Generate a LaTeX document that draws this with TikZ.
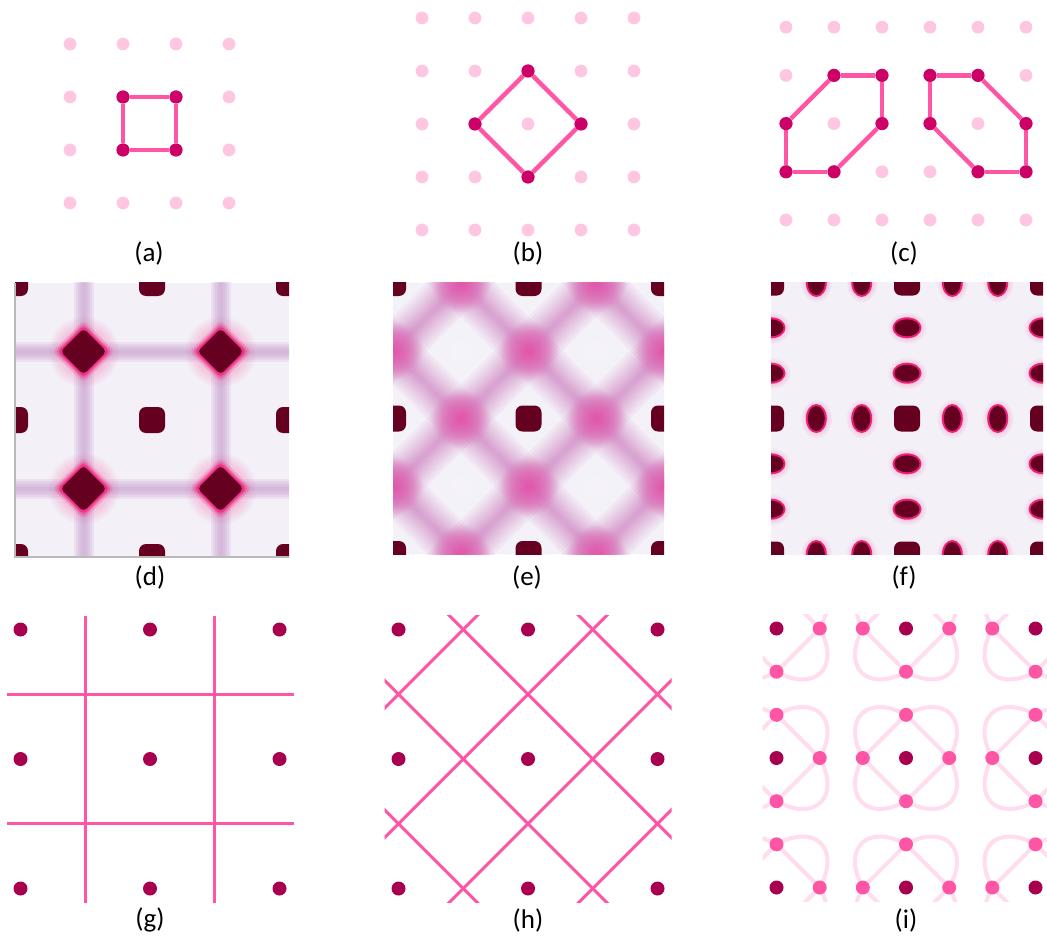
\documentclass[tikz,border=0pt]{standalone}
\usepackage{fontspec}
\setmainfont{Carlito}
\usetikzlibrary{fadings}
\definecolor{latc}{HTML}{FFC6E2}
\definecolor{sitec}{HTML}{CC0066}
\definecolor{bondc}{HTML}{FF55A5}
\definecolor{atomc}{HTML}{A8004F}
\definecolor{petalc}{HTML}{FFDDEE}
\definecolor{mapbg}{HTML}{F3F0F8}
\definecolor{roomc}{HTML}{F6F4FA}
\definecolor{maroon}{HTML}{650020}
\definecolor{bandc}{HTML}{C290C4}
\definecolor{bandd}{HTML}{CF7CBE}
\definecolor{glowc}{HTML}{F0207A}
\definecolor{glowd}{HTML}{E84AA5}
\tikzfading[name=softglow, inner color=transparent!0, outer color=transparent!100]
\tikzset{
  latt/.style={circle, fill=latc, inner sep=0pt, minimum size=6.4pt},
  site/.style={circle, fill=sitec, inner sep=0pt, minimum size=6.6pt},
  bond/.style={draw=bondc, line width=2.2pt},
  atom/.style={circle, fill=atomc, inner sep=0pt, minimum size=7pt},
  link/.style={circle, fill=bondc, inner sep=0pt, minimum size=7pt},
  petal/.style={draw=petalc, line width=2pt},
  wire/.style={draw=bondc, line width=1.5pt},
  core/.style={fill=maroon, rounded corners=3.5pt},
  caption/.style={font=\fontsize{13.5}{16}\selectfont},
}
\begin{document}
\begin{tikzpicture}[x=0.5pt, y=-0.5pt]
  \useasboundingbox (0,0) rectangle (1047,935);
  % (a) square plaquette
  \foreach \i in {1,...,4}
    \foreach \j in {1,...,4}
      \node[latt] (a-\i-\j) at ({17+53*\i},{-9+53*\j}) {};
  \foreach \p/\q in {2-2/3-2, 3-2/3-3, 3-3/2-3, 2-3/2-2}
    \draw[bond] (a-\p) -- (a-\q);
  \foreach \i/\j in {2/2, 3/2, 3/3, 2/3}
    \node[site] (a-\i-\j) at ({17+53*\i},{-9+53*\j}) {};
  \node[caption] (cap-a) at (149,253) {(a)};
  % (b) rotated plaquette
  \foreach \i in {1,...,5}
    \foreach \j in {1,...,5}
      \node[latt] (b-\i-\j) at ({369+53*\i},{-35+53*\j}) {};
  \foreach \p/\q in {3-2/4-3, 4-3/3-4, 3-4/2-3, 2-3/3-2}
    \draw[bond] (b-\p) -- (b-\q);
  \foreach \i/\j in {3/2, 4/3, 3/4, 2/3}
    \node[site] (b-\i-\j) at ({369+53*\i},{-35+53*\j}) {};
  \node[caption] (cap-b) at (528,253) {(b)};
  % (c) two hexagonal loops
  \foreach \i in {1,...,6}
    \foreach \j in {1,...,5}
      \node[latt] (c-\i-\j) at ({738+48*\i},{-21+48.2*\j}) {};
  \foreach \p/\q in {2-2/3-2, 3-2/3-3, 3-3/2-4, 2-4/1-4, 1-4/1-3, 1-3/2-2,
                     4-2/5-2, 5-2/6-3, 6-3/6-4, 6-4/5-4, 5-4/4-3, 4-3/4-2}
    \draw[bond] (c-\p) -- (c-\q);
  \foreach \i/\j in {2/2, 3/2, 3/3, 2/4, 1/4, 1/3, 4/2, 5/2, 6/3, 6/4, 5/4, 4/3}
    \node[site] (c-\i-\j) at ({738+48*\i},{-21+48.2*\j}) {};
  \node[caption] (cap-c) at (904,253) {(c)};
  % (d) density map, square bands
  \begin{scope}[shift={(152,420)}]
    \fill[mapbg] (-137,-137) rectangle (137,137);
    \begin{scope}
      \clip (-137,-137) rectangle (137,137);
      \foreach \c in {-68.5,68.5}
        \foreach \w in {10pt,8pt,6pt,4pt,2pt} {
          \draw[bandc, line width=\w, opacity=0.15] (\c,-140) -- (\c,140);
          \draw[bandc, line width=\w, opacity=0.15] (-140,\c) -- (140,\c);
        }
      \foreach \x in {-68.5,68.5}
        \foreach \y in {-68.5,68.5} {
          \fill[glowc, path fading=softglow, opacity=0.6] (\x,\y) circle (36);
          \foreach \r/\o in {31/0.15, 28.5/0.3, 26/0.7}
            \fill[glowc, opacity=\o, rounded corners=2pt]
              (\x-\r,\y) -- (\x,\y-\r) -- (\x+\r,\y) -- (\x,\y+\r) -- cycle;
          \fill[maroon, rounded corners=2pt]
            (\x-23,\y) -- (\x,\y-23) -- (\x+23,\y) -- (\x,\y+23) -- cycle;
        }
      \foreach \x in {-137,0,137}
        \foreach \y in {-137,0,137}
          \fill[core] (\x-13,\y-13) rectangle (\x+13,\y+13);
    \end{scope}
    \draw[gray!55, line width=0.6pt] (-137,-137) -- (-137,137) -- (137,137);
  \end{scope}
  \node[caption] (cap-d) at (150,577) {(d)};
  % (e) density map, diagonal bands
  \begin{scope}[shift={(528.5,418.5)}]
    \fill[mapbg] (-135.5,-135.5) rectangle (135.5,135.5);
    \clip (-135.5,-135.5) rectangle (135.5,135.5);
    \foreach \k in {-3,-1,1,3}
      \foreach \w in {24pt,21pt,18pt,15pt,12pt,9pt,6pt,3pt} {
        \draw[bandd, line width=\w, opacity=0.13] ({\k*67.75-250},250) -- ({\k*67.75+250},-250);
        \draw[bandd, line width=\w, opacity=0.13] ({\k*67.75-250},-250) -- ({\k*67.75+250},250);
      }
    \foreach \i/\j in {0/0, 1/1, 1/-1, -1/1, -1/-1, 2/0, -2/0, 0/2, 0/-2, 2/2, 2/-2, -2/2, -2/-2}
      \fill[roomc, path fading=softglow, opacity=0.85] (\i*67.75,\j*67.75) circle (50);
    \foreach \i/\j in {1/0, -1/0, 0/1, 0/-1, 2/1, 2/-1, -2/1, -2/-1, 1/2, -1/2, 1/-2, -1/-2}
      \fill[glowd, path fading=softglow, opacity=0.8] (\i*67.75,\j*67.75) circle (30);
    \foreach \x in {-135.5,0,135.5}
      \foreach \y in {-135.5,0,135.5}
        \fill[core] (\x-13,\y-13) rectangle (\x+13,\y+13);
  \end{scope}
  \node[caption] (cap-e) at (527,577) {(e)};
  % (f) density map, split charges
  \begin{scope}[shift={(907,418.5)}]
    \fill[mapbg] (-136,-136) rectangle (136,136);
    \clip (-136,-136) rectangle (136,136);
    \foreach \p in {-90.7,-45.3,45.3,90.7}
      \foreach \q in {-136,0,136} {
        \fill[glowc, path fading=softglow, opacity=0.5] (\p,\q) circle[x radius=16, y radius=20];
        \fill[glowc, path fading=softglow, opacity=0.5] (\q,\p) circle[x radius=20, y radius=16];
        \fill[glowc] (\p,\q) circle[x radius=10.5, y radius=14.5];
        \fill[glowc] (\q,\p) circle[x radius=14.5, y radius=10.5];
        \fill[maroon] (\p,\q) circle[x radius=8.5, y radius=12.5];
        \fill[maroon] (\q,\p) circle[x radius=12.5, y radius=8.5];
      }
    \foreach \x in {-136,0,136}
      \foreach \y in {-136,0,136}
        \fill[core] (\x-13,\y-13) rectangle (\x+13,\y+13);
  \end{scope}
  \node[caption] (cap-f) at (904,577) {(f)};
  % (g) square wires
  \begin{scope}[shift={(150,759)}]
    \foreach \k in {-1,1} {
      \draw[wire] (\k*64.75,-143.5) -- (\k*64.75,143.5);
      \draw[wire] (-143.5,\k*64.75) -- (143.5,\k*64.75);
    }
    \foreach \i in {-1,0,1}
      \foreach \j in {-1,0,1}
        \node[atom] (g\i\j) at (\i*129.5,\j*129.5) {};
  \end{scope}
  \node[caption] (cap-g) at (150,920) {(g)};
  % (h) diagonal wires
  \begin{scope}[shift={(528,759)}]
    \begin{scope}
      \clip (-143.5,-143.5) rectangle (143.5,143.5);
      \foreach \k in {-3,-1,1,3} {
        \draw[wire] ({\k*64.75-200},200) -- ({\k*64.75+200},-200);
        \draw[wire] ({\k*64.75-200},-200) -- ({\k*64.75+200},200);
      }
    \end{scope}
    \foreach \i in {-1,0,1}
      \foreach \j in {-1,0,1}
        \node[atom] (h\i\j) at (\i*129.5,\j*129.5) {};
  \end{scope}
  \node[caption] (cap-h) at (528,920) {(h)};
  % (i) split sites with petals
  \begin{scope}[shift={(906,758)}]
    \clip (-143.5,-143.5) rectangle (143.5,143.5);
    \foreach \i in {-1,0,1}
      \foreach \j in {-1,0,1}
        \foreach \sx in {-1,1}
          \foreach \sy in {-1,1} {
            \draw[petal] (\i*129.5,\j*129.5+\sy*43.2) -- (\i*129.5+\sx*43.2,\j*129.5);
            \draw[petal] (\i*129.5,\j*129.5+\sy*43.2)
              .. controls (\i*129.5+\sx*38.8,\j*129.5+\sy*64.75)
              and (\i*129.5+\sx*64.75,\j*129.5+\sy*38.8)
              .. (\i*129.5+\sx*43.2,\j*129.5);
          }
    \foreach \i in {-1,0,1}
      \foreach \j in {-1,0,1} {
        \node[link] (i\i\j-e) at (\i*129.5+43.2,\j*129.5) {};
        \node[link] (i\i\j-w) at (\i*129.5-43.2,\j*129.5) {};
        \node[link] (i\i\j-n) at (\i*129.5,\j*129.5-43.2) {};
        \node[link] (i\i\j-s) at (\i*129.5,\j*129.5+43.2) {};
        \node[atom] (i\i\j) at (\i*129.5,\j*129.5) {};
      }
  \end{scope}
  \node[caption] (cap-i) at (906,920) {(i)};
\end{tikzpicture}
\end{document}
